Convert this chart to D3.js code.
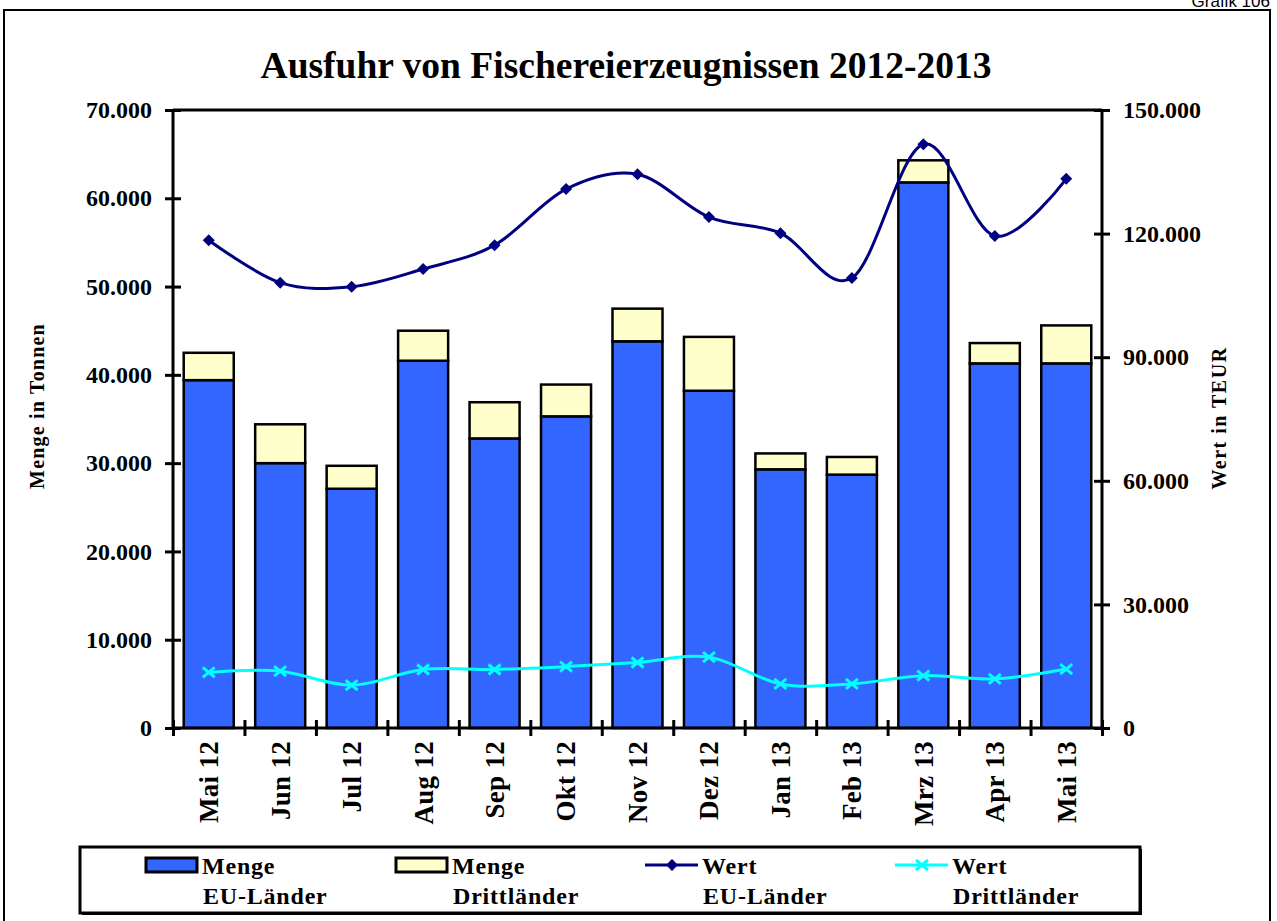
<!DOCTYPE html>
<html>
<head>
<meta charset="utf-8">
<script src="https://cdn.jsdelivr.net/npm/d3@7"></script>
<style>
  body { margin: 0; background: #fff; }
  text { font-family: "Liberation Serif", "Times New Roman", serif; font-weight: bold; }
</style>
</head>
<body>
<div id="chart"></div>
<script>
// Data
const months = ["Mai 12", "Jun 12", "Jul 12", "Aug 12", "Sep 12", "Okt 12", "Nov 12",
                "Dez 12", "Jan 13", "Feb 13", "Mrz 13", "Apr 13", "Mai 13"]
const mengeEU = [39400, 30000, 27100, 41600, 32800, 35300, 43800, 38200, 29300, 28700, 61800, 41300, 41300]
const mengeDritt = [3100, 4400, 2600, 3400, 4100, 3600, 3700, 6100, 1800, 2000, 2500, 2300, 4300]
const wertEU = [118400, 108100, 107100, 111400, 117200, 130800, 134400, 124000, 120100, 109200, 141700, 119400, 133300]
const wertDritt = [13500, 13800, 10400, 14200, 14200, 14900, 15900, 17200, 10700, 10700, 12700, 11900, 14300]
const leftTicks = [0, 10000, 20000, 30000, 40000, 50000, 60000, 70000]
const rightTicks = [0, 30000, 60000, 90000, 120000, 150000]

// Layout
const W = 1277, H = 921
const plotL = 173, plotR = 1102, plotT = 110, plotB = 728
const tickFont = "24px"

const de = d3.formatLocale({ decimal: ",", thousands: ".", grouping: [3], currency: ["", " €"] })
const fmt = de.format(",")

const svg = d3.select("#chart").append("svg")
  .attr("width", W).attr("height", H)

// outer frame + page label
svg.append("rect")
  .attr("x", 4).attr("y", 10).attr("width", 1266).attr("height", 920)
  .attr("fill", "none").attr("stroke", "#000").attr("stroke-width", 2)

svg.append("text")
  .attr("x", 1270).attr("y", 7)
  .attr("text-anchor", "end")
  .style("font-family", "Liberation Sans, Arial, sans-serif")
  .style("font-weight", "normal")
  .style("font-size", "17px")
  .text("Grafik 106")

// Scales
const x = d3.scaleBand().domain(months).range([plotL, plotR]).paddingInner(0.3).paddingOuter(0.15)
const xEdge = d3.scaleLinear().domain([0, months.length]).range([plotL, plotR])
const yL = d3.scaleLinear().domain([0, 70000]).range([plotB, plotT])
const yR = d3.scaleLinear().domain([0, 150000]).range([plotB, plotT])

// Title
svg.append("text")
  .attr("x", 626).attr("y", 78)
  .attr("text-anchor", "middle")
  .style("font-size", "37.5px")
  .text("Ausfuhr von Fischereierzeugnissen 2012-2013")

// Bars (stacked)
const bars = svg.append("g")
months.forEach((m, i) => {
  bars.append("rect")
    .attr("x", x(m)).attr("width", x.bandwidth())
    .attr("y", yL(mengeEU[i])).attr("height", yL(0) - yL(mengeEU[i]))
    .attr("fill", "#3366ff").attr("stroke", "#000").attr("stroke-width", 2.5)
  bars.append("rect")
    .attr("x", x(m)).attr("width", x.bandwidth())
    .attr("y", yL(mengeEU[i] + mengeDritt[i])).attr("height", yL(0) - yL(mengeDritt[i]))
    .attr("fill", "#ffffcc").attr("stroke", "#000").attr("stroke-width", 2.5)
})

// Top border of plot area
svg.append("line")
  .attr("x1", plotL).attr("x2", plotR).attr("y1", plotT).attr("y2", plotT)
  .attr("stroke", "#000").attr("stroke-width", 3)

// Axes
const axL = svg.append("g")
  .attr("transform", `translate(${plotL},0)`)
  .call(d3.axisLeft(yL).tickValues(leftTicks).tickFormat(fmt).tickSize(8).tickPadding(13))
axL.selectAll(".tick line").attr("x1", 8)

const axR = svg.append("g")
  .attr("transform", `translate(${plotR},0)`)
  .call(d3.axisRight(yR).tickValues(rightTicks).tickFormat(fmt).tickSize(8).tickPadding(13))
axR.selectAll(".tick line").attr("x1", -8)

const axB = svg.append("g")
  .attr("transform", `translate(0,${plotB})`)
  .call(d3.axisBottom(xEdge).tickValues(d3.range(0, months.length + 1)).tickFormat("").tickSize(8))
axB.selectAll(".tick line").attr("y1", -8)

;[axL, axR, axB].forEach(a => {
  a.select(".domain").attr("stroke-width", 3).attr("stroke", "#000")
  a.selectAll(".tick line").attr("stroke-width", 3).attr("stroke", "#000")
  a.selectAll(".tick text")
    .style("font-family", "Liberation Serif, serif")
    .style("font-weight", "bold")
    .style("font-size", tickFont)
    .attr("fill", "#000")
})
axB.select(".domain").attr("d", `M${plotL},0H${plotR}`)
axL.select(".domain").attr("d", `M0,${plotB}V${plotT}`)
axR.select(".domain").attr("d", `M0,${plotB}V${plotT}`)

// Month labels, rotated
svg.append("g").selectAll("text")
  .data(months)
  .join("text")
  .attr("transform", d => `translate(${x(d) + x.bandwidth() / 2},741) rotate(-90)`)
  .attr("text-anchor", "end")
  .attr("dy", "0.35em")
  .style("font-size", "27px")
  .style("letter-spacing", "0.3px")
  .text(d => d)

// Axis titles
svg.append("text")
  .attr("transform", "translate(44,406) rotate(-90)")
  .attr("text-anchor", "middle")
  .style("font-size", "20px")
  .style("letter-spacing", "1.2px")
  .text("Menge in Tonnen")

svg.append("text")
  .attr("transform", "translate(1226,418) rotate(-90)")
  .attr("text-anchor", "middle")
  .style("font-size", "20px")
  .style("letter-spacing", "1.5px")
  .text("Wert in TEUR")

// Lines
const cx = i => x(months[i]) + x.bandwidth() / 2
const line = d3.line().x((d, i) => cx(i)).y(d => yR(d)).curve(d3.curveCardinal.tension(0))

svg.append("path")
  .datum(wertEU)
  .attr("d", line)
  .attr("fill", "none").attr("stroke", "#000080").attr("stroke-width", 3)

svg.append("g").selectAll("path")
  .data(wertEU)
  .join("path")
  .attr("transform", (d, i) => `translate(${cx(i)},${yR(d)})`)
  .attr("d", "M0,-6L6,0L0,6L-6,0Z")
  .attr("fill", "#000080")

svg.append("path")
  .datum(wertDritt)
  .attr("d", line)
  .attr("fill", "none").attr("stroke", "#00ffff").attr("stroke-width", 3)

svg.append("g").selectAll("path")
  .data(wertDritt)
  .join("path")
  .attr("transform", (d, i) => `translate(${cx(i)},${yR(d)})`)
  .attr("d", "M-6,-5L6,5M-6,5L6,-5")
  .attr("stroke", "#00ffff").attr("stroke-width", 3)

// Legend
svg.append("rect")
  .attr("x", 82).attr("y", 849).attr("width", 1060).attr("height", 66)
  .attr("fill", "#000")
svg.append("rect")
  .attr("x", 80).attr("y", 847).attr("width", 1060).attr("height", 66)
  .attr("fill", "#fff").attr("stroke", "#000").attr("stroke-width", 3)

const legendItems = [
  { type: "bar", color: "#3366ff", x: 145, l1: "Menge", l2: "EU-Länder" },
  { type: "bar", color: "#ffffcc", x: 395, l1: "Menge", l2: "Drittländer" },
  { type: "diamond", color: "#000080", x: 645, l1: "Wert", l2: "EU-Länder" },
  { type: "cross", color: "#00ffff", x: 895, l1: "Wert", l2: "Drittländer" }
]

legendItems.forEach(it => {
  const g = svg.append("g").attr("transform", `translate(${it.x},0)`)
  if (it.type === "bar") {
    g.append("rect")
      .attr("x", 1).attr("y", 858).attr("width", 51).attr("height", 14)
      .attr("fill", it.color).attr("stroke", "#000").attr("stroke-width", 3)
  } else {
    g.append("line")
      .attr("x1", 0).attr("x2", 53).attr("y1", 865).attr("y2", 865)
      .attr("stroke", it.color).attr("stroke-width", 3)
    if (it.type === "diamond") {
      g.append("path")
        .attr("transform", "translate(27,865)")
        .attr("d", "M0,-6L6,0L0,6L-6,0Z").attr("fill", it.color)
    } else {
      g.append("path")
        .attr("transform", "translate(27,865)")
        .attr("d", "M-6,-5L6,5M-6,5L6,-5").attr("stroke", it.color).attr("stroke-width", 3)
    }
  }
  g.append("text").attr("x", 57).attr("y", 874)
    .style("font-size", "24px").style("letter-spacing", "0.8px").text(it.l1)
  g.append("text").attr("x", 58).attr("y", 904)
    .style("font-size", "24px").style("letter-spacing", "0.8px").text(it.l2)
})
</script>
</body>
</html>
